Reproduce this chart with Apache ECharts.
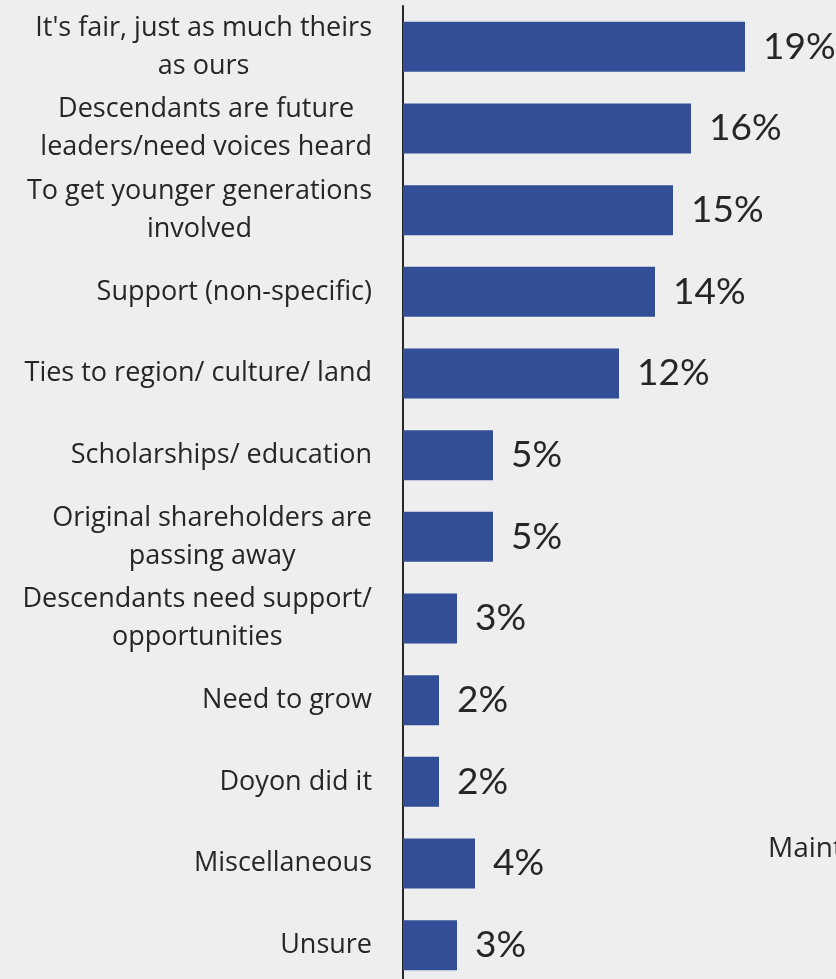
<!DOCTYPE html>
<html>
<head>
<meta charset="utf-8">
<script src="https://cdn.jsdelivr.net/npm/echarts@6/dist/echarts.min.js"></script>
<style>
  html, body { margin: 0; padding: 0; background: #eeeeee; overflow: hidden; }
  #chart { width: 836px; height: 990px; }
</style>
</head>
<body>
<div id="chart"></div>
<script>
// Reasons given, top to bottom (line breaks as shown on the axis)
const categories = [
  "It's fair, just as much theirs\nas ours",
  "Descendants are future\nleaders/need voices heard",
  "To get younger generations\ninvolved",
  "Support (non-specific)",
  "Ties to region/ culture/ land",
  "Scholarships/ education",
  "Original shareholders are\npassing away",
  "Descendants need support/\nopportunities",
  "Need to grow",
  "Doyon did it",
  "Miscellaneous",
  "Unsure"
];
// Share of responses, percent
const values = [19, 16, 15, 14, 12, 5, 5, 3, 2, 2, 4, 3];

const TEXT_FONT = '"Open Sans", "Noto Sans", sans-serif';
const VALUE_FONT = 'Lato, sans-serif';
const chart = echarts.init(document.getElementById('chart'));

chart.setOption({
  backgroundColor: '#eeeeee',
  animation: false,
  grid: { left: 403, width: 432, top: 6, height: 980, containLabel: false },
  xAxis: {
    type: 'value', min: 0, max: 24, show: false
  },
  yAxis: {
    type: 'category',
    inverse: true,
    data: categories,
    axisLine: { show: true, lineStyle: { color: '#262626', width: 2 } },
    axisTick: { show: false },
    axisLabel: {
      margin: 31,
      align: 'right',
      formatter: function (v) {
        return v.split('\n').map(function (s) { return '{c|' + s + '}'; }).join('\n');
      },
      rich: {
        c: { align: 'center', fontFamily: TEXT_FONT, fontSize: 27, color: '#262626', lineHeight: 38 }
      }
    }
  },
  series: [{
    type: 'bar',
    data: values,
    barWidth: 50,
    itemStyle: { color: '#314e96' },
    label: {
      show: true,
      position: 'right',
      distance: 18,
      formatter: '{c}%',
      fontFamily: VALUE_FONT,
      fontSize: 37,
      color: '#262626'
    }
  }],
  graphic: [{
    type: 'text',
    x: 768, y: 849,
    style: { text: 'Maintain', fontFamily: TEXT_FONT, fontSize: 28, fill: '#262626', verticalAlign: 'middle' }
  }]
});
</script>
</body>
</html>
